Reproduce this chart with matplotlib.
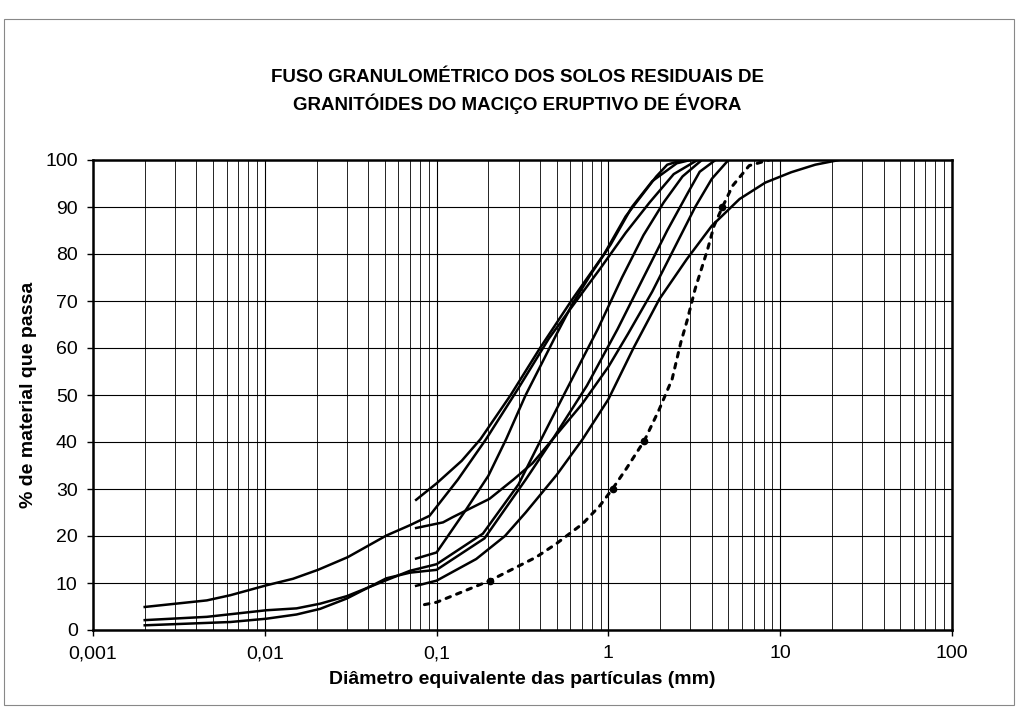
import numpy as np
import matplotlib
matplotlib.use("Agg")
import matplotlib.pyplot as plt
from matplotlib.ticker import LogLocator, FixedLocator, NullFormatter
from matplotlib.patches import Rectangle

plt.rcParams['font.family'] = ['Liberation Sans', 'DejaVu Sans']

# curvas granulometricas (diametro mm, % passado)
a_d = [0.002, 0.0046, 0.0063, 0.0102, 0.0146, 0.0204, 0.0304, 0.051, 0.07, 0.091,
       0.133, 0.194, 0.3, 0.45, 0.62, 0.9, 1.26, 1.74, 2.4, 3.3]
a_v = [4.9, 6.3, 7.4, 9.5, 10.9, 12.8, 15.5, 20.1, 22.3, 24.3,
       32, 40.6, 51.5, 62, 69, 77, 84.5, 91, 97, 100]

b_d = [0.002, 0.0046, 0.0102, 0.0153, 0.021, 0.03, 0.051, 0.07, 0.1, 0.186,
       0.3, 0.38, 0.55, 0.867, 1.2, 1.6, 2.1, 2.7, 3.5]
b_v = [2.1, 2.8, 4.2, 4.6, 5.6, 7.2, 10.6, 12.6, 14.0, 20.5,
       31, 38.5, 50, 64, 75, 84, 91, 96.5, 100]

c_d = [0.002, 0.0063, 0.0102, 0.0153, 0.021, 0.03, 0.051, 0.07, 0.1, 0.19,
       0.33, 0.474, 0.75, 1.13, 1.6, 2.2, 2.9, 3.4, 4.2]
c_v = [1.0, 1.7, 2.4, 3.3, 4.5, 6.7, 11.0, 12.2, 12.8, 19.5,
       32, 40.6, 52, 64, 75, 85, 93, 97.5, 100]

d_d = [0.076, 0.1, 0.14, 0.18, 0.27, 0.4, 0.62, 0.945, 1.26, 1.9, 2.2, 2.7]
d_v = [27.7, 31.2, 36, 40.6, 50, 60, 70.5, 80, 88, 96.5, 99, 100]

e_d = [0.076, 0.109, 0.124, 0.203, 0.28, 0.362, 0.474, 0.7, 1.0, 1.3, 1.8,
       2.4, 3.2, 4.0, 5.0]
e_v = [21.7, 22.9, 24, 27.9, 32, 35.5, 40.6, 48, 56, 63, 72,
       81, 90, 96, 100]

f_d = [0.076, 0.1, 0.149, 0.2, 0.254, 0.33, 0.4, 0.5, 0.62, 0.8, 1.03, 1.37,
       1.8, 2.5, 3.0]
f_v = [15.2, 16.5, 25.7, 32.8, 40.6, 50, 56, 63, 69.5, 76, 82, 90,
       95.5, 99.3, 100]

g_d = [0.076, 0.1, 0.17, 0.25, 0.33, 0.398, 0.5, 0.708, 1.0, 1.4, 1.98, 2.86,
       4.0, 5.8, 8.2, 11.6, 16, 22]
g_v = [9.4, 10.5, 15.1, 20, 25, 28.6, 33, 40.6, 49.1, 60, 70.4, 78.9,
       86, 91.7, 95.2, 97.4, 99, 100]

# curva a tracejado
p_d = [0.085, 0.1, 0.204, 0.38, 0.495, 0.708, 0.89, 1.06, 1.27, 1.62, 1.98,
       2.35, 2.64, 2.87, 3.2, 3.78, 4.12, 4.6, 5.28, 6.6, 8.6]
p_v = [5.4, 5.9, 10.5, 15.5, 18.3, 22.6, 26.4, 30.1, 34.3, 40.3, 47,
       53.4, 61.2, 65.8, 72.6, 81, 86, 89.9, 94.5, 98.8, 100]
p_marks = [2, 7, 9, 17]

x_ticks = [0.001, 0.01, 0.1, 1, 10, 100]
x_labels = ['0,001', '0,01', '0,1', '1', '10', '100']
y_ticks = list(range(0, 101, 10))

fig = plt.figure(figsize=(10.2, 7.14), dpi=100)
ax = fig.add_axes([93/1020, 1-630/714, 859/1020, 470/714])

for xs, ys in [(a_d, a_v), (b_d, b_v), (c_d, c_v), (d_d, d_v),
               (e_d, e_v), (f_d, f_v), (g_d, g_v)]:
    ax.plot(xs, ys, color='black', lw=1.8, zorder=3)
ax.plot(p_d, p_v, color='black', lw=2.2, linestyle=(0, (1.5, 2.2)),
        dash_capstyle='round', marker='o', markersize=4.5,
        markevery=p_marks, zorder=3)

ax.set_xscale('log')
ax.set_xlim(0.001, 100)
ax.set_ylim(0, 100)
ax.xaxis.set_major_locator(FixedLocator(x_ticks))
ax.set_xticklabels(x_labels)
ax.xaxis.set_minor_locator(LogLocator(base=10, subs=np.arange(2, 10), numticks=20))
ax.xaxis.set_minor_formatter(NullFormatter())
ax.set_yticks(y_ticks)

ax.grid(True, which='major', color='black', lw=0.8)
ax.grid(True, which='minor', axis='x', color='black', lw=0.6)
ax.tick_params(axis='both', which='major', direction='out', length=4,
               width=1, labelsize=14, pad=7)
ax.tick_params(axis='x', which='minor', length=0)
for s in ax.spines.values():
    s.set_linewidth(1.8)

ax.set_xlabel('Diâmetro equivalente das partículas (mm)', fontsize=14,
              fontweight='bold', labelpad=6)
ax.set_ylabel('% de material que passa', fontsize=14, fontweight='bold',
              labelpad=6)

fig.text(0.507, 1-78/714, 'FUSO GRANULOMÉTRICO DOS SOLOS RESIDUAIS DE',
         ha='center', va='center', fontsize=13.5, fontweight='bold')
fig.text(0.507, 1-104/714, 'GRANITÓIDES DO MACIÇO ERUPTIVO DE ÉVORA',
         ha='center', va='center', fontsize=13.5, fontweight='bold')

fig.patches.append(Rectangle((0.004, 0.012), 0.99, 0.962, transform=fig.transFigure,
                             fill=False, edgecolor='#888888', lw=0.8))

fig.savefig('out.png', dpi=100)
